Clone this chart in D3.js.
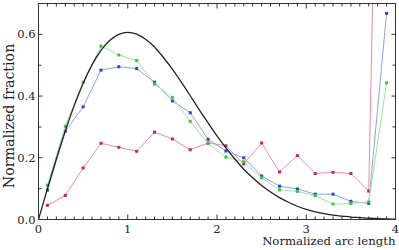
<!DOCTYPE html>
<html>
<head>
<meta charset="utf-8">
<script src="https://cdn.jsdelivr.net/npm/d3@7"></script>
<style>
  body { margin: 0; background: #fff; }
  text { font-family: "DejaVu Serif", "Liberation Serif", serif; fill: #222; }
</style>
</head>
<body>
<script>
// sample positions (normalized arc length)
var xs = [0.1, 0.3, 0.5, 0.7, 0.9, 1.1, 1.3, 1.5, 1.7, 1.9,
          2.1, 2.3, 2.5, 2.7, 2.9, 3.1, 3.3, 3.5, 3.7, 3.9];

var redVals = [0.046, 0.078, 0.167, 0.247, 0.234, 0.221, 0.283, 0.261, 0.226, 0.248,
               0.239, 0.180, 0.248, 0.154, 0.207, 0.149, 0.153, 0.149, 0.092, 2.9];
var blueVals = [0.095, 0.286, 0.365, 0.484, 0.495, 0.489, 0.445, 0.384, 0.346, 0.260,
                0.222, 0.200, 0.141, 0.108, 0.099, 0.082, 0.082, 0.059, 0.052, 0.668];
var greenVals = [0.111, 0.302, 0.445, 0.562, 0.533, 0.515, 0.439, 0.396, 0.318, 0.246,
                 0.202, 0.187, 0.135, 0.096, 0.091, 0.077, 0.050, 0.052, 0.057, 0.443];

// reference curve, every 0.1
var curveX = d3.range(0, 41).map(function (i) { return i / 10; });
var curveVals = [0, 0.0995, 0.196, 0.287, 0.369, 0.441, 0.501, 0.548, 0.581, 0.600,
                 0.6065, 0.601, 0.584, 0.559, 0.525, 0.487, 0.445, 0.401, 0.356, 0.313,
                 0.271, 0.232, 0.196, 0.163, 0.135, 0.110, 0.089, 0.071, 0.056, 0.043,
                 0.033, 0.025, 0.019, 0.014, 0.011, 0.008, 0.006, 0.004, 0.003, 0.002, 0.001];

var xTickLabels = ["0", "1", "2", "3", "4"];
var yTickLabels = ["0.0", "0.2", "0.4", "0.6"];

var width = 399, height = 250;
var margin = {top: 3.5, right: 3.5, bottom: 30.5, left: 38.5};

var svg = d3.select("body").append("svg").attr("width", width).attr("height", height);

var x = d3.scaleLinear().domain([0, 4]).range([margin.left, width - margin.right]);
var y = d3.scaleLinear().domain([0, 0.7]).range([height - margin.bottom, margin.top]);

svg.append("clipPath").attr("id", "plot")
    .append("rect")
    .attr("x", x(0)).attr("y", y(0.7))
    .attr("width", x(4) - x(0)).attr("height", y(0) - y(0.7));

var layer = svg.append("g").attr("clip-path", "url(#plot)");

var series = [
    {vals: redVals, line: "#e58aa6", dot: "#c8245a"},
    {vals: blueVals, line: "#8d9ff0", dot: "#2a44cc"},
    {vals: greenVals, line: "#9fe39a", dot: "#3cc43a"}
];

var line = d3.line()
    .x(function (d) { return x(d[0]); })
    .y(function (d) { return y(d[1]); });

series.forEach(function (s) {
    var pts = xs.map(function (v, i) { return [v, s.vals[i]]; });
    layer.append("path")
        .attr("d", line(pts))
        .attr("fill", "none")
        .attr("stroke", s.line)
        .attr("stroke-width", 1);
    layer.selectAll(null)
        .data(pts.filter(function (d) { return d[1] <= 0.7; }))
        .enter().append("rect")
        .attr("x", function (d) { return x(d[0]) - 1.5; })
        .attr("y", function (d) { return y(d[1]) - 1.5; })
        .attr("width", 3).attr("height", 3)
        .attr("fill", s.dot);
});

var smooth = d3.line().curve(d3.curveMonotoneX)
    .x(function (d) { return x(d[0]); })
    .y(function (d) { return y(d[1]); });

layer.append("path")
    .attr("d", smooth(curveX.map(function (v, i) { return [v, curveVals[i]]; })))
    .attr("fill", "none")
    .attr("stroke", "#222")
    .attr("stroke-width", 1.3);

// frame
svg.append("rect")
    .attr("x", x(0)).attr("y", y(0.7))
    .attr("width", x(4) - x(0)).attr("height", y(0) - y(0.7))
    .attr("fill", "none").attr("stroke", "#333").attr("stroke-width", 1);

// inward ticks on all four sides
var xt = d3.range(1, 40).map(function (i) { return i / 10; });
var yt = d3.range(1, 7).map(function (i) { return i / 10; });
var ticks = svg.append("g").attr("stroke", "#333").attr("stroke-width", 1);
xt.forEach(function (t) {
    var len = (Math.abs(t - Math.round(t)) < 1e-6) ? 5 : 3;
    ticks.append("line").attr("x1", x(t)).attr("x2", x(t)).attr("y1", y(0)).attr("y2", y(0) - len);
    ticks.append("line").attr("x1", x(t)).attr("x2", x(t)).attr("y1", y(0.7)).attr("y2", y(0.7) + len);
});
yt.forEach(function (t) {
    var len = (Math.round(t * 10) % 2 == 0) ? 4 : 3;
    ticks.append("line").attr("x1", x(0)).attr("x2", x(0) + len).attr("y1", y(t)).attr("y2", y(t));
    ticks.append("line").attr("x1", x(4)).attr("x2", x(4) - len).attr("y1", y(t)).attr("y2", y(t));
});

// tick labels
svg.selectAll(null).data(xTickLabels).enter().append("text")
    .attr("x", function (d) { return x(+d); })
    .attr("y", y(0) + 13)
    .attr("text-anchor", "middle")
    .attr("font-size", 11.5)
    .text(function (d) { return d; });

svg.selectAll(null).data(yTickLabels).enter().append("text")
    .attr("x", x(0) - 3)
    .attr("y", function (d) { return y(+d) + 4; })
    .attr("text-anchor", "end")
    .attr("font-size", 11.5)
    .text(function (d) { return d; });

// axis titles
svg.append("text")
    .attr("x", x(4))
    .attr("y", 245)
    .attr("text-anchor", "end")
    .attr("font-size", 11.7)
    .text("Normalized arc length");

svg.append("text")
    .attr("transform", "translate(14," + 116 + ") rotate(-90)")
    .attr("text-anchor", "middle")
    .attr("font-size", 14.2)
    .text("Normalized fraction");
</script>
</body>
</html>
